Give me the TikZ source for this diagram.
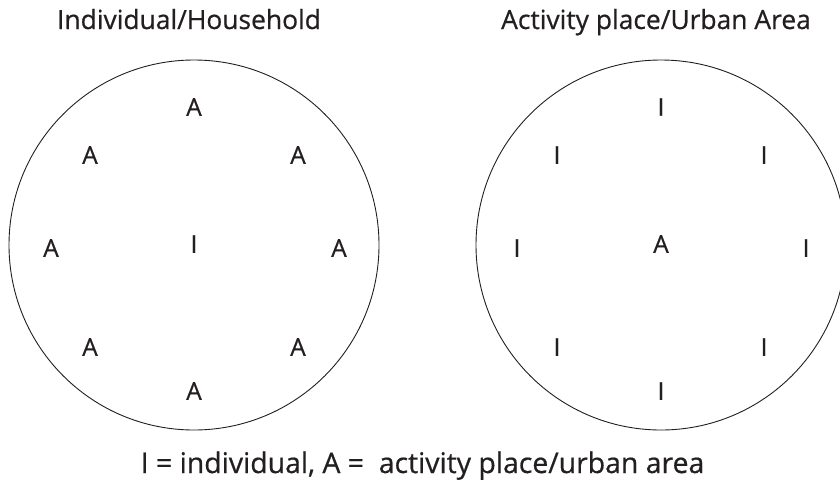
\documentclass[tikz,border=0pt]{standalone}
\usepackage{fontspec}
\setmainfont[FakeBold=0.6]{Open Sans}
\definecolor{ink}{HTML}{231F20}
\begin{document}
\begin{tikzpicture}[x=1pt,y=-1pt,
  lbl/.style={inner sep=0pt,font=\fontsize{24.5}{28}\selectfont,text=ink},
  ttl/.style={inner sep=0pt,anchor=base,font=\fontsize{26.4}{30}\selectfont,text=ink},
  ftl/.style={inner sep=0pt,anchor=base,font=\fontsize{28.4}{32}\selectfont,text=ink},
  ring/.style={draw=ink,line width=0.9pt}]
\useasboundingbox (0,0) rectangle (840,480);
\begin{scope}
\clip (0,0) rectangle (840,480);
\node[ring,circle,minimum size=370pt,inner sep=0pt] (c1) at (194,245) {};
\node[ring,circle,minimum size=370pt,inner sep=0pt] (c2) at (661,245) {};
\end{scope}
\node[ttl] (t1) at (189,29) {Individual/Household};
\node[ttl] (t2) at (656,29) {Activity place/Urban Area};
% left circle
\node[lbl] (la1) at (194,107) {A};
\node[lbl] (la2) at (90,155) {A};
\node[lbl] (la3) at (298,155) {A};
\node[lbl] (la4) at (51,248) {A};
\node[lbl] (li)  at (194,244) {I};
\node[lbl] (la5) at (339,248) {A};
\node[lbl] (la6) at (90,347) {A};
\node[lbl] (la7) at (298,347) {A};
\node[lbl] (la8) at (194,391) {A};
% right circle
\node[lbl] (ri1) at (661,107) {I};
\node[lbl] (ri2) at (557,155) {I};
\node[lbl] (ri3) at (764,155) {I};
\node[lbl] (ri4) at (517,248) {I};
\node[lbl] (ra)  at (661,244) {A};
\node[lbl] (ri5) at (806,248) {I};
\node[lbl] (ri6) at (557,347) {I};
\node[lbl] (ri7) at (764,347) {I};
\node[lbl] (ri8) at (661,391) {I};
\node[ftl] (ft) at (422.5,473) {I = individual, A =\ \ activity place/urban area};
\end{tikzpicture}
\end{document}
